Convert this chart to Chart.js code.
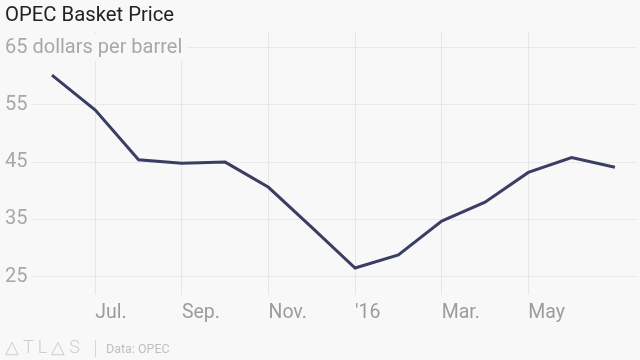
<!DOCTYPE html>
<html>
<head>
<meta charset="utf-8">
<script src="https://cdn.jsdelivr.net/npm/chart.js@4/dist/chart.umd.min.js"></script>
<style>
  html, body { margin: 0; padding: 0; background: #f8f8f8; }
  #wrap { position: relative; width: 640px; height: 360px; overflow: hidden; background: #f8f8f8; font-family: Roboto, "Liberation Sans", sans-serif; }
  #chartBox { position: absolute; left: 0; top: 0; width: 640px; height: 360px; }
  #title { position: absolute; left: 5px; top: 2px; font-size: 20.3px; color: #222; white-space: nowrap; }
  #logo { position: absolute; left: 5px; top: 336px; font-size: 18px; font-weight: 300; color: #cfcfcf; letter-spacing: 4px; white-space: nowrap; }
  #divider { position: absolute; left: 95px; top: 340px; width: 1px; height: 17px; background: #d6d6d6; }
  #source { position: absolute; left: 106px; top: 341px; font-size: 12.5px; color: #c0c0c0; white-space: nowrap; }
</style>
</head>
<body>
<div id="wrap">
  <div id="chartBox"><canvas id="c" width="640" height="360"></canvas></div>
  <div id="title">OPEC Basket Price</div>
  <div id="logo">△TL△S</div>
  <div id="divider"></div>
  <div id="source">Data: OPEC</div>
</div>
<script>
// Monthly points, June 2015 .. July 2016
const months = ["Jun 2015","Jul 2015","Aug 2015","Sep 2015","Oct 2015","Nov 2015","Dec 2015",
                "Jan 2016","Feb 2016","Mar 2016","Apr 2016","May 2016","Jun 2016","Jul 2016"];
const prices = [60.2, 54.1, 45.4, 44.8, 45.0, 40.6, 33.6, 26.5, 28.8, 34.7, 38.0, 43.2, 45.8, 44.1];
const xTickIndex = [1, 3, 5, 7, 9, 11];
const xTickLabels = ["Jul.", "Sep.", "Nov.", "'16", "Mar.", "May"];
const yTickValues = [25, 35, 45, 55, 65];
const yUnit = " dollars per barrel";

const points = prices.map((p, i) => ({ x: i, y: p }));

new Chart(document.getElementById('c'), {
  type: 'line',
  data: {
    datasets: [{
      label: 'OPEC Basket Price',
      data: points,
      borderColor: '#3a3e63',
      borderWidth: 3,
      pointRadius: 0,
      tension: 0,
      fill: false
    }]
  },
  options: {
    responsive: false,
    animation: false,
    layout: { padding: { left: 0, right: 3, top: 31, bottom: 28 } },
    plugins: { legend: { display: false }, tooltip: { enabled: false } },
    scales: {
      x: {
        type: 'linear',
        min: -1.2,
        max: 13.51,
        afterBuildTicks: (axis) => { axis.ticks = xTickIndex.map(v => ({ value: v })); },
        grid: { color: '#e6e6e6', lineWidth: 1, drawTicks: true, tickLength: 18, tickColor: '#e6e6e6' },
        border: { display: false },
        ticks: {
          autoSkip: false, maxRotation: 0, minRotation: 0, align: 'start', padding: 7,
          color: '#9c9c9c', font: { family: 'Roboto', size: 19.5 },
          callback: (v) => { const k = xTickIndex.indexOf(v); return k >= 0 ? xTickLabels[k] : ''; }
        }
      },
      y: {
        min: 25,
        max: 67.9,
        afterBuildTicks: (axis) => { axis.ticks = yTickValues.map(v => ({ value: v })); },
        afterFit: (axis) => { axis.width = 0; },
        grid: { color: '#e9e9e9', lineWidth: 1, drawTicks: false },
        border: { display: false },
        ticks: {
          mirror: true, padding: 5,
          color: '#a8a8a8', font: { family: 'Roboto', size: 20 },
          showLabelBackdrop: true, backdropColor: '#f8f8f8', backdropPadding: { left: 5, right: 4, top: 2, bottom: 2 },
          callback: (v) => v === 65 ? v + yUnit : String(v)
        }
      }
    }
  }
});
</script>
</body>
</html>
